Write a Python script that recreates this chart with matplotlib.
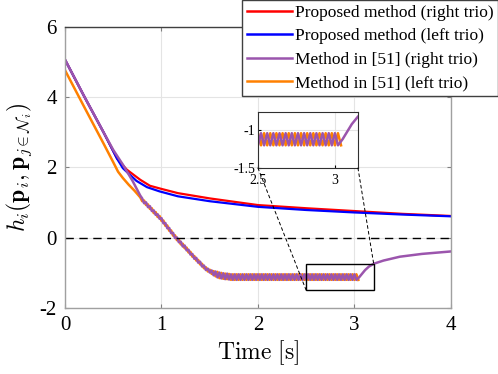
import numpy as np
import matplotlib
matplotlib.use('Agg')
import matplotlib.pyplot as plt
from matplotlib.lines import Line2D
from matplotlib.patches import Rectangle, ConnectionPatch

plt.rcParams['font.family'] = ['Liberation Serif', 'DejaVu Serif']
plt.rcParams['mathtext.fontset'] = 'cm'
plt.rcParams['axes.unicode_minus'] = False

# smooth parts (time [s], value)
t_red = [0, 0.2, 0.4, 0.54, 0.64, 0.78, 0.88, 1.0, 1.17, 1.5, 2.0, 2.5, 3.0, 3.5, 4.0]
h_red = [5.07, 4.02, 3.0, 2.25, 1.94, 1.65, 1.48, 1.39, 1.27, 1.12, 0.93, 0.84, 0.76, 0.68, 0.62]
t_blue = [0, 0.2, 0.4, 0.54, 0.6, 0.74, 0.85, 0.98, 1.17, 1.5, 2.0, 2.5, 3.0, 3.5, 4.0]
h_blue = [5.07, 4.02, 3.0, 2.25, 1.98, 1.62, 1.44, 1.32, 1.18, 1.04, 0.88, 0.79, 0.72, 0.66, 0.61]

t_purple_start = [0, 0.2, 0.4, 0.5, 0.6, 0.7, 0.78]
h_purple_start = [5.07, 4.02, 3.0, 2.5, 2.08, 1.62, 1.2]
t_orange_start = [0, 0.2, 0.4, 0.5, 0.55, 0.6, 0.66, 0.72, 0.78]
h_orange_start = [4.77, 3.72, 2.68, 2.15, 1.88, 1.7, 1.51, 1.34, 1.15]

# chattering part, one vertex every 0.02 s from 0.80 s to 3.04 s
t_chat = np.arange(0.80, 3.041, 0.02)
h_purple_chat = [
    1.12, 0.98, 1.01, 0.87, 0.90, 0.76, 0.78, 0.65, 0.67, 0.54,
    0.56, 0.41, 0.42, 0.27, 0.28, 0.13, 0.14, -0.01, 0.01, -0.13,
    -0.11, -0.25, -0.22, -0.36, -0.34, -0.48, -0.46, -0.60, -0.57, -0.71,
    -0.68, -0.82, -0.79, -0.92, -0.88, -0.99, -0.93, -1.07, -0.96, -1.13,
    -0.99, -1.16, -1.01, -1.18, -1.02, -1.19,
    -1.04, -1.20, -1.04, -1.20, -1.04, -1.20, -1.04, -1.20, -1.04, -1.20,
    -1.04, -1.20, -1.04, -1.20, -1.04, -1.20, -1.04, -1.20, -1.04, -1.20,
    -1.04, -1.20, -1.04, -1.20, -1.04, -1.20, -1.04, -1.20, -1.04, -1.20,
    -1.04, -1.20, -1.04, -1.20, -1.04, -1.20, -1.04, -1.20, -1.04, -1.20,
    -1.04, -1.20, -1.04, -1.20, -1.04, -1.20, -1.04, -1.20, -1.04, -1.20,
    -1.04, -1.20, -1.04, -1.20, -1.04, -1.20, -1.04, -1.20, -1.04, -1.20,
    -1.04, -1.20, -1.04, -1.20, -1.04, -1.20, -1.04,
]
h_orange_chat = [
    1.04, 1.06, 0.93, 0.95, 0.82, 0.84, 0.70, 0.73, 0.59, 0.62,
    0.48, 0.49, 0.34, 0.35, 0.20, 0.21, 0.06, 0.07, -0.07, -0.05,
    -0.19, -0.17, -0.30, -0.28, -0.42, -0.40, -0.54, -0.52, -0.65, -0.63,
    -0.76, -0.74, -0.87, -0.84, -0.96, -0.91, -1.03, -0.95, -1.10, -0.97,
    -1.15, -1.00, -1.17, -1.02, -1.18, -1.03,
    -1.20, -1.04, -1.20, -1.04, -1.20, -1.04, -1.20, -1.04, -1.20, -1.04,
    -1.20, -1.04, -1.20, -1.04, -1.20, -1.04, -1.20, -1.04, -1.20, -1.04,
    -1.20, -1.04, -1.20, -1.04, -1.20, -1.04, -1.20, -1.04, -1.20, -1.04,
    -1.20, -1.04, -1.20, -1.04, -1.20, -1.04, -1.20, -1.04, -1.20, -1.04,
    -1.20, -1.04, -1.20, -1.04, -1.20, -1.04, -1.20, -1.04, -1.20, -1.04,
    -1.20, -1.04, -1.20, -1.04, -1.20, -1.04, -1.20, -1.04, -1.20, -1.04,
    -1.20, -1.04, -1.20, -1.04, -1.20, -1.04, -1.20,
]

# purple recovers after the chattering stops
t_purple_end = [3.05, 3.08, 3.11, 3.15, 3.2, 3.3, 3.47, 3.7, 4.0]
h_purple_end = [-1.12, -1.02, -0.92, -0.82, -0.74, -0.65, -0.54, -0.46, -0.39]

t_purple = np.concatenate([t_purple_start, t_chat[:-1], t_purple_end])
h_purple = np.concatenate([h_purple_start, h_purple_chat[:-1], h_purple_end])
t_orange = np.concatenate([t_orange_start, t_chat])
h_orange = np.concatenate([h_orange_start, h_orange_chat])

labels = ['Proposed method (right trio)', 'Proposed method (left trio)',
          'Method in [51] (right trio)', 'Method in [51] (left trio)']
colors = ['#ff0000', '#0000ff', '#9b55ad', '#ff8000']

fig = plt.figure(figsize=(4.98, 3.74), dpi=100)
ax = fig.add_axes([0.1305, 0.1765, 0.7751, 0.7513])

ax.plot(t_red, h_red, color=colors[0], lw=1.6)
ax.plot(t_blue, h_blue, color=colors[1], lw=1.6)
ax.plot(t_orange, h_orange, color=colors[3], lw=1.8)
ax.plot(t_purple, h_purple, color=colors[2], lw=1.8)
ax.axhline(0, color='black', lw=1.0, ls=(0, (6, 4)))

ax.set_xlim(0, 4)
ax.set_ylim(-2, 6)
ax.set_xticks([0, 1, 2, 3, 4])
ax.set_yticks([-2, 0, 2, 4, 6])
ax.tick_params(direction='in', labelsize=15, length=3, color='#808080',
               top=True, right=True, pad=6)
ax.grid(True, color='#e4e4e4', lw=0.8)
ax.set_axisbelow(True)
for s in ax.spines.values():
    s.set_color('#a0a0a0')
    s.set_linewidth(1.0)
ax.spines['top'].set_color('#404040')
ax.set_xlabel(r'$\mathrm{Time\ [s]}$', fontsize=17, labelpad=2)
ax.set_ylabel(r'$h_i(\mathbf{p}_i, \mathbf{p}_{j\in\mathcal{N}_i})$', fontsize=17, labelpad=4)

ax.add_patch(Rectangle((2.5, -1.5), 0.7, 0.74, fill=False, edgecolor='black', lw=1.0, zorder=5))

# zoomed inset
axin = fig.add_axes([0.518, 0.5508, 0.2008, 0.1497])
axin.plot(t_orange, h_orange, color=colors[3], lw=1.8)
axin.plot(t_purple, h_purple, color=colors[2], lw=1.8)
axin.set_xlim(2.5, 3.15)
axin.set_ylim(-1.5, -0.76)
axin.set_xticks([2.5, 3])
axin.set_xticklabels(['2.5', '3'])
axin.set_yticks([-1.5, -1])
axin.set_yticklabels(['-1.5', '-1'])
axin.tick_params(direction='in', labelsize=10, length=2, pad=2)
axin.tick_params(axis='x', pad=4)
axin.grid(True, color='#e4e4e4', lw=0.8)
for s in axin.spines.values():
    s.set_color('#303030')

for xa, xb in [((0, 0), (2.5, -1.5)), ((1, 0), (3.2, -0.76))]:
    con = ConnectionPatch(xyA=xa, coordsA=axin.transAxes, xyB=xb, coordsB=ax.transData,
                          color='black', lw=0.7, ls=(0, (3, 3)))
    fig.add_artist(con)

handles = [Line2D([], [], color=c, lw=1.8) for c in colors]
fig.legend(handles, labels, loc='upper right', bbox_to_anchor=(0.999, 0.999),
           fontsize=12.5, frameon=True, fancybox=False, framealpha=1, edgecolor='#404040',
           handlelength=2.6, handletextpad=0.15, borderpad=0.25, labelspacing=0.42,
           borderaxespad=0)

fig.savefig('out.png', dpi=100)
